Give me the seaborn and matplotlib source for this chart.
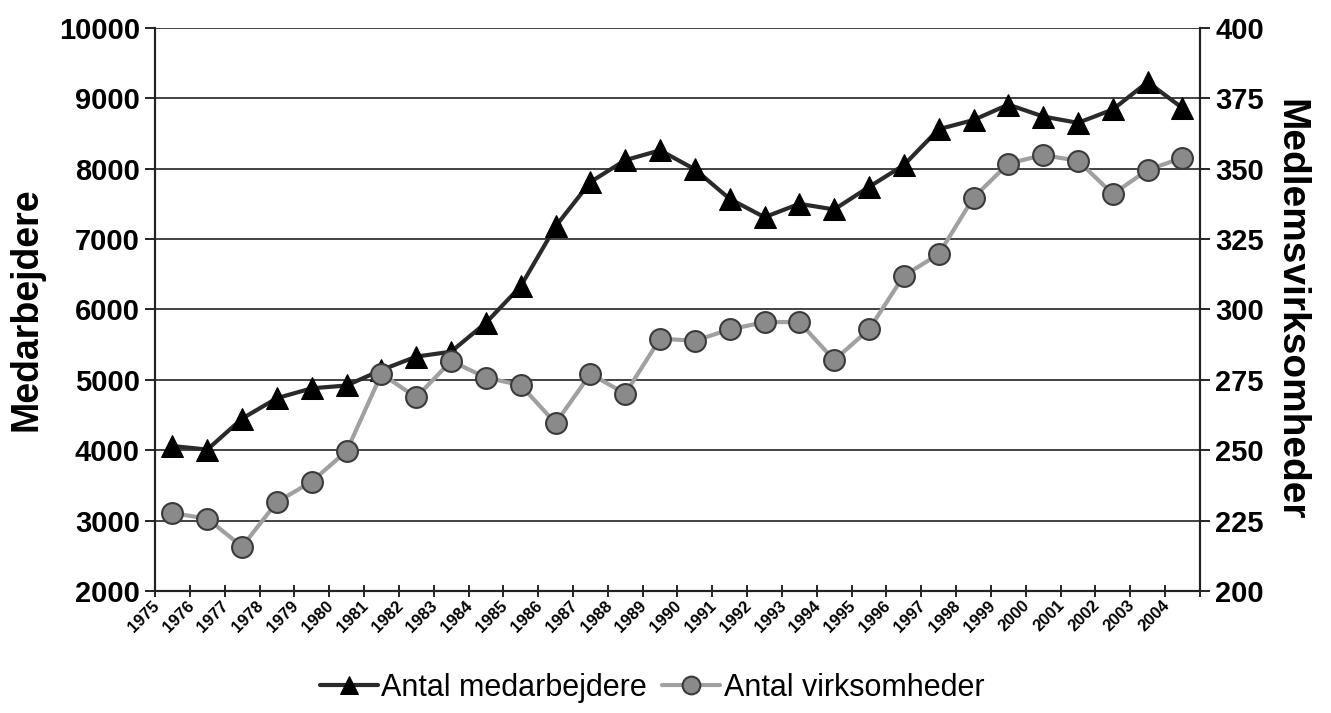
import numpy as np
import pandas as pd
import matplotlib
matplotlib.use('Agg')
import matplotlib.pyplot as plt
import matplotlib.ticker as mticker
import seaborn as sb

# data
years = list(range(1975, 2005))
medarbejdere = [4060, 4010, 4450, 4740, 4880, 4920, 5140, 5330, 5400, 5810,
                6330, 7180, 7810, 8120, 8260, 7990, 7570, 7310, 7500, 7420,
                7740, 8050, 8560, 8690, 8910, 8740, 8650, 8840, 9230, 8860]
virksomheder = [227.7, 225.7, 215.8, 231.6, 238.9, 249.7, 277.1, 268.8, 281.7, 275.8,
                273.1, 259.6, 277.1, 270.1, 289.6, 288.9, 292.9, 295.5, 295.5, 282.0,
                292.9, 312.0, 319.6, 339.7, 351.8, 354.8, 352.8, 341.0, 349.5, 353.9]

df = pd.DataFrame({'aar': years, 'medarbejdere': medarbejdere, 'virksomheder': virksomheder})

sb.set_style('white')
plt.rcParams['font.family'] = ['Liberation Sans', 'DejaVu Sans']
plt.rcParams['text.color'] = 'black'
plt.rcParams['xtick.color'] = 'black'
plt.rcParams['ytick.color'] = 'black'
plt.rcParams['axes.labelcolor'] = 'black'

fig = plt.figure(figsize=(13.31, 7.13), dpi=100)
ax = fig.add_axes([0.1165, 0.171, 0.785, 0.790])
ax2 = ax.twinx()

sb.lineplot(data=df, x='aar', y='medarbejdere', ax=ax, color='#2a2a2a', linewidth=3,
            marker='^', markersize=16, markerfacecolor='black', markeredgecolor='black',
            label='Antal medarbejdere', legend=False)
sb.lineplot(data=df, x='aar', y='virksomheder', ax=ax2, color='#a0a0a0', linewidth=3,
            marker='o', markersize=15, markerfacecolor='#8a8a8a', markeredgecolor='#3a3a3a',
            markeredgewidth=1.5, label='Antal virksomheder', legend=False)

ax.set_xlim(years[0] - 0.5, years[-1] + 0.5)
ax.set_ylim(2000, 10000)
ax.set_yticks(np.arange(2000, 10001, 1000))
ax2.set_ylim(200, 400)
ax2.set_yticks(np.arange(200, 401, 25))

# gridlines
for v in np.arange(3000, 10001, 1000):
    ax.axhline(v, color='#222222', linewidth=1.2, zorder=0)

# x ticks: marks at boundaries, labels shifted left
ax.set_xticks([y - 0.3 for y in years])
ax.set_xticklabels([str(y) for y in years], rotation=45, ha='right', va='top',
                   fontsize=12, fontweight='bold')
ax.xaxis.set_minor_locator(mticker.FixedLocator([y - 0.5 for y in years] + [years[-1] + 0.5]))
ax.tick_params(axis='x', which='both', bottom=True)
ax.tick_params(axis='x', which='major', length=0, pad=5)
ax.tick_params(axis='x', which='minor', length=8, width=1.2, direction='inout', color='black')

ax.tick_params(axis='y', left=True, length=7, width=1.2, direction='out', labelsize=21, pad=4)
ax2.tick_params(axis='y', right=True, length=7, width=1.2, direction='out', labelsize=21, pad=4)
for t in ax.get_yticklabels() + ax2.get_yticklabels():
    t.set_fontweight('bold')

for a in (ax, ax2):
    a.spines['top'].set_visible(False)
    for s in ('left', 'right', 'bottom'):
        a.spines[s].set_color('#222222')
        a.spines[s].set_linewidth(1.5)

ax.set_xlabel('')
ax.set_ylabel('Medarbejdere', fontsize=27, fontweight='bold', labelpad=10)
ax2.set_ylabel('Medlemsvirksomheder', fontsize=28, fontweight='bold', rotation=270, labelpad=32)

h1, l1 = ax.get_legend_handles_labels()
h2, l2 = ax2.get_legend_handles_labels()
fig.legend(h1 + h2, l1 + l2, loc='center', bbox_to_anchor=(0.49, 0.035), ncol=2,
           frameon=False, fontsize=22, handlelength=1.9, handletextpad=0.1,
           columnspacing=0.5, markerscale=0.85)

fig.savefig('out.png', dpi=100)
